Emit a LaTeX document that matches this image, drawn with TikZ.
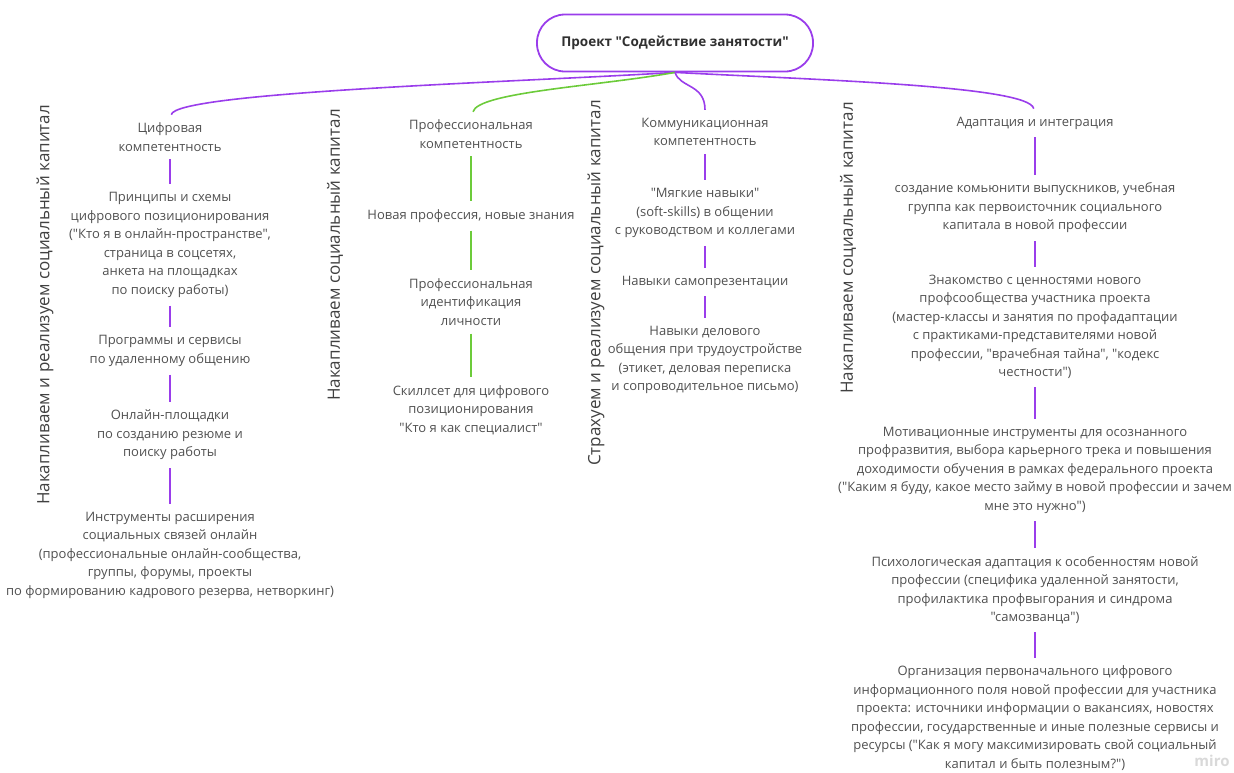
\documentclass[tikz,border=0pt]{standalone}
\usepackage{fontspec}
\setmainfont{Open Sans}[Ligatures=TeXOff]
\definecolor{mirop}{HTML}{9A3DEB}
\definecolor{mirog}{HTML}{6CCB3A}
\definecolor{txtc}{HTML}{505050}

\begin{document}
\begin{tikzpicture}[x=1pt,y=-1pt,
  txt/.style={align=center,inner sep=0pt,text=txtc,font=\fontsize{13}{18.5}\selectfont},
  side/.style={rotate=90,inner sep=0pt,text=txtc!80!black,font=\fontsize{17}{20}\selectfont},
  bar/.style={mirop,line width=1.6pt,shorten >=8pt,shorten <=8pt},
  gbar/.style={bar,mirog},
  branch/.style={line width=1.6pt,shorten >=8pt}]
\useasboundingbox (0,0) rectangle (1234,772);
% root
\node[draw=mirop,line width=1.8pt,rounded corners=28pt,minimum width=276pt,minimum height=57pt,text=txtc!60!black,font=\bfseries\fontsize{13.5}{16}\selectfont] (root) at (675,43) {Проект "Содействие занятости"};
% vertical captions
\node[side] (s1) at (45,305) {Накапливаем и реализуем социальный капитал};
\node[side] (s2) at (335,255) {Накапливаем социальный капитал};
\node[side] (s3) at (596,283) {Страхуем и реализуем социальный капитал};
\node[side] (s4) at (848,248) {Накапливаем социальный капитал};
% digital column
\node[txt] (c1) at (170,137) {Цифровая\\компетентность};
\node[txt] (c2) at (170,245) {Принципы и схемы\\цифрового позиционирования\\("Кто я в онлайн-пространстве",\\страница в соцсетях,\\анкета на площадках\\по поиску работы)};
\node[txt] (c3) at (170,351) {Программы и сервисы\\по удаленному общению};
\node[txt] (c4) at (170,435) {Онлайн-площадки\\по созданию резюме и\\поиску работы};
\node[txt] (c5) at (170,555) {Инструменты расширения\\социальных связей онлайн\\(профессиональные онлайн-сообщества,\\группы, форумы, проекты\\по формированию кадрового резерва, нетворкинг)};
% professional column
\node[txt] (p1) at (471,134) {Профессиональная\\компетентность};
\node[txt] (p2) at (471,216) {Новая профессия, новые знания};
\node[txt] (p3) at (471,302) {Профессиональная\\идентификация\\личности};
\node[txt] (p4) at (471,410) {Скиллсет для цифрового\\позиционирования\\"Кто я как специалист"};
% communication column
\node[txt] (k1) at (705,132) {Коммуникационная\\компетентность};
\node[txt] (k2) at (705,213) {"Мягкие навыки"\\(soft-skills) в общении\\с руководством и коллегами};
\node[txt] (k3) at (705,282) {Навыки самопрезентации};
\node[txt] (k4) at (705,360) {Навыки делового\\общения при трудоустройстве\\(этикет, деловая переписка\\и сопроводительное письмо)};
% adaptation column
\node[txt] (a1) at (1035,123) {Адаптация и интеграция};
\node[txt] (a2) at (1035,208) {создание комьюнити выпускников, учебная\\группа как первоисточник социального\\капитала в новой профессии};
\node[txt] (a3) at (1035,327) {Знакомство с ценностями нового\\профсообщества участника проекта\\(мастер-классы и занятия по профадаптации\\с практиками-представителями новой\\профессии, "врачебная тайна", "кодекс\\честности")};
\node[txt] (a4) at (1035,470) {Мотивационные инструменты для осознанного\\профразвития, выбора карьерного трека  и повышения\\доходимости обучения в рамках федерального проекта\\("Каким я буду, какое место займу в  новой профессии и зачем\\мне это нужно")};
\node[txt] (a5) at (1035,590) {Психологическая адаптация к особенностям новой\\профессии (специфика удаленной занятости,\\профилактика профвыгорания и синдрома\\"самозванца")};
\node[txt] (a6) at (1035,718) {Организация первоначального цифрового\\информационного поля новой профессии для участника\\проекта: источники информации о вакансиях, новостях\\профессии, государственные и иные полезные сервисы и\\ресурсы ("Как я могу максимизировать свой социальный\\капитал и быть полезным?")};
% branches from the root
\draw[branch,mirop] (root.south) .. controls (520,82) and (175,92) .. (c1.north);
\draw[branch,mirog] (root.south) .. controls (600,86) and (478,92) .. (p1.north);
\draw[branch,mirop] (root.south) .. controls (680,88) and (705,84) .. (k1.north);
\draw[branch,mirop] (root.south) .. controls (820,80) and (1030,86) .. (a1.north);
% links in the columns
\foreach \a/\b in {c1/c2,c2/c3,c3/c4,c4/c5,k1/k2,k2/k3,k3/k4,a1/a2,a2/a3,a3/a4,a4/a5,a5/a6}{\draw[bar] (\a)--(\b);}
\foreach \a/\b in {p1/p2,p2/p3,p3/p4}{\draw[gbar] (\a)--(\b);}
\node[text=black!15,font=\bfseries\fontsize{15}{15}\selectfont] (mark) at (1212,761) {miro};
\end{tikzpicture}
\end{document}
